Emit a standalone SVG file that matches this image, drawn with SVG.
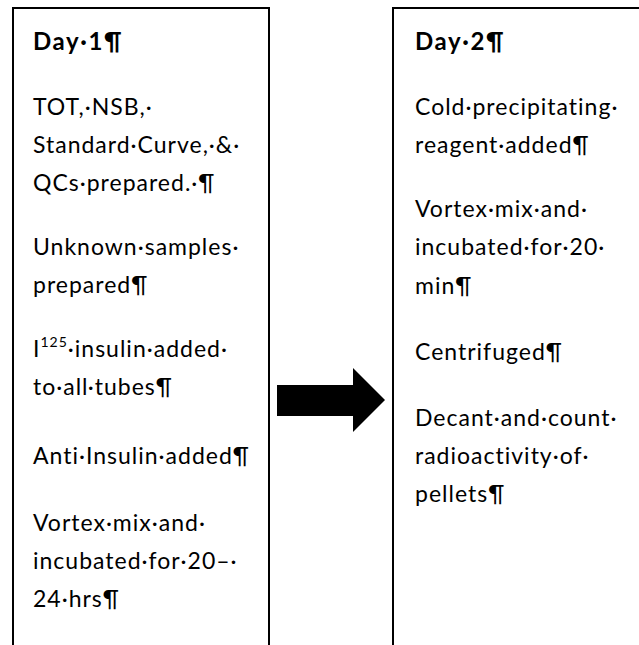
<svg xmlns="http://www.w3.org/2000/svg" width="639" height="645" viewBox="0 0 639 645">
  <style>
    .box { fill: #ffffff; stroke: #000000; stroke-width: 2; }
    .t { font-family: Lato, "Liberation Sans", sans-serif; font-size: 23px; fill: #000000; letter-spacing: 1px; }
    .h { font-weight: bold; font-size: 24px; letter-spacing: 1.6px; }
  </style>
  <rect x="0" y="0" width="639" height="645" fill="#ffffff"/>

  <!-- Day 1 column -->
  <g id="day1">
    <rect class="box" x="13" y="8" width="256" height="660"/>
    <text class="t h" x="33" y="50">Day·1¶</text>
    <text class="t" x="33" y="115">TOT,·NSB,·</text>
    <text class="t" x="33" y="153">Standard·Curve,·&amp;·</text>
    <text class="t" x="33" y="191">QCs·prepared.·¶</text>
    <text class="t" x="33" y="255">Unknown·samples·</text>
    <text class="t" x="33" y="293">prepared¶</text>
    <text class="t" x="33" y="357">I<tspan font-size="14" dy="-10">125</tspan><tspan dy="10">·insulin·added·</tspan></text>
    <text class="t" x="33" y="395">to·all·tubes¶</text>
    <text class="t" x="33" y="464">Anti·Insulin·added¶</text>
    <text class="t" x="33" y="531">Vortex·mix·and·</text>
    <text class="t" x="33" y="569">incubated·for·20–·</text>
    <text class="t" x="33" y="607">24·hrs¶</text>
  </g>

  <!-- Day 2 column -->
  <g id="day2">
    <rect class="box" x="393" y="8" width="280" height="660"/>
    <text class="t h" x="415" y="50">Day·2¶</text>
    <text class="t" x="415" y="115">Cold·precipitating·</text>
    <text class="t" x="415" y="153">reagent·added¶</text>
    <text class="t" x="415" y="217">Vortex·mix·and·</text>
    <text class="t" x="415" y="255">incubated·for·20·</text>
    <text class="t" x="415" y="294">min¶</text>
    <text class="t" x="415" y="360">Centrifuged¶</text>
    <text class="t" x="415" y="426">Decant·and·count·</text>
    <text class="t" x="415" y="464">radioactivity·of·</text>
    <text class="t" x="415" y="502">pellets¶</text>
  </g>

  <!-- connector: block arrow from Day 1 to Day 2 -->
  <g id="connectors">
    <polygon points="277,385 353,385 353,368 385,400 353,432 353,416 277,416" fill="#000000"/>
  </g>
</svg>
